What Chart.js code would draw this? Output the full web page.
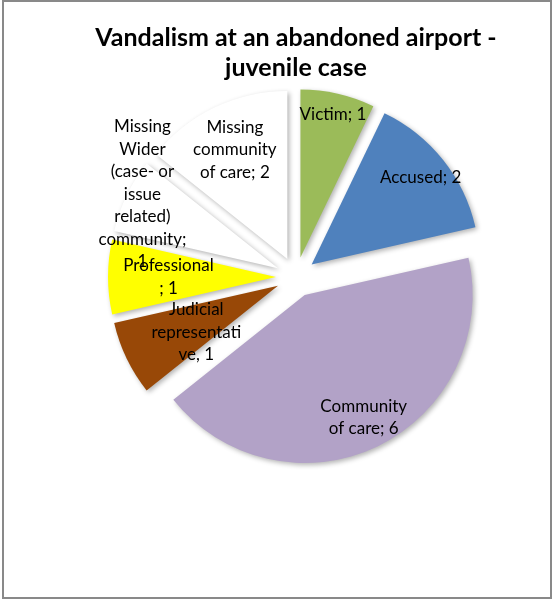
<!DOCTYPE html>
<html>
<head>
<meta charset="utf-8">
<script src="https://cdn.jsdelivr.net/npm/chart.js@4.4.0/dist/chart.umd.min.js"></script>
<style>
    html, body { margin: 0; padding: 0; background: #fff; }
    #wrap { position: absolute; left: 0; top: 0; width: 554px; height: 601px; }
    #frame { position: absolute; left: 2px; top: 0; width: 546px; height: 595px; border: 2px solid #898989; pointer-events: none; }
</style>
</head>
<body>
<div id="wrap"><canvas id="pieChart"></canvas></div>
<div id="frame"></div>
<script>
// data
const categories = [
    'Victim',
    'Accused',
    'Community of care',
    'Judicial representative',
    'Professional',
    'Missing Wider (case- or issue related) community',
    'Missing community of care'
];
const counts = [1, 2, 6, 1, 1, 1, 2];
const titleLines = ['Vandalism at an abandoned airport -', 'juvenile case'];

// how each data label wraps inside its slice ({v} = the count)
const labelLayout = [
    ['Victim; {v}'],
    ['Accused; {v}'],
    ['Community', 'of care; {v}'],
    ['Judicial', 'representati', 've, {v}'],
    ['Professional', '; {v}'],
    ['Missing', 'Wider', '(case- or', 'issue', 'related)', 'community;', '{v}'],
    ['Missing', 'community', 'of care; {v}']
];
// label distance (share of radius) and angle nudge (degrees) per slice
const labelRadius = [0.87, 0.83, 0.81, 0.56, 0.64, 0.92, 0.72];
const labelTurn = [0, 0, 0, -4, 0, 3, 0];

const sliceColors = ['#9bbb59', '#4f81bd', '#b2a2c7', '#984807', '#ffff00', '#ffffff', '#ffffff'];

const SHIFT = 20; // how far every slice is pulled out
const LABEL_FONT = '17px Lato, "Open Sans", sans-serif';
const LINE_H = 22.5;

// explode slices (draw each arc moved along its bisector, with a soft shadow)
const explodePlugin = {
    id: 'explode',
    beforeDatasetDraw(chart, args) {
        const ctx = chart.ctx;
        args.meta.data.forEach((arc) => {
            const mid = (arc.startAngle + arc.endAngle) / 2;
            ctx.save();
            ctx.shadowColor = 'rgba(0, 0, 0, 0.3)';
            ctx.shadowBlur = 5;
            ctx.shadowOffsetX = 2;
            ctx.shadowOffsetY = 2;
            ctx.translate(Math.cos(mid) * SHIFT, Math.sin(mid) * SHIFT);
            arc.draw(ctx);
            ctx.restore();
        });
        return false;
    },
    afterDatasetsDraw(chart) {
        const ctx = chart.ctx;
        const meta = chart.getDatasetMeta(0);
        ctx.save();
        ctx.font = LABEL_FONT;
        ctx.fillStyle = '#000';
        ctx.textAlign = 'center';
        ctx.textBaseline = 'middle';
        meta.data.forEach((arc, i) => {
            const mid = (arc.startAngle + arc.endAngle) / 2;
            const ang = mid + labelTurn[i] * Math.PI / 180;
            const r = arc.outerRadius * labelRadius[i];
            const x = arc.x + Math.cos(mid) * SHIFT + Math.cos(ang) * r;
            const y = arc.y + Math.sin(mid) * SHIFT + Math.sin(ang) * r;
            const lines = labelLayout[i].map((l) => l.replace('{v}', counts[i]));
            const top = y - (lines.length - 1) * LINE_H / 2;
            lines.forEach((line, k) => {
                ctx.fillText(line, x, top + k * LINE_H);
            });
        });
        ctx.restore();
    }
};

const ctx = document.getElementById('pieChart');
// eslint-disable-next-line no-unused-vars
const pieChart = new Chart(ctx, {
    type: 'pie',
    data: {
        labels: categories,
        datasets: [{
            data: counts,
            backgroundColor: sliceColors,
            borderWidth: 0
        }]
    },
    options: {
        responsive: true,
        maintainAspectRatio: false,
        animation: false,
        events: [],
        radius: 168,
        layout: {
            padding: { left: 38, right: 0, top: 0, bottom: 140 }
        },
        plugins: {
            legend: { display: false },
            tooltip: { enabled: false },
            title: {
                display: true,
                text: titleLines,
                color: '#000',
                font: { family: 'Lato, "Open Sans", sans-serif', size: 25, weight: 'bold', lineHeight: 1.2 },
                padding: { top: 23, bottom: 10 }
            }
        }
    },
    plugins: [explodePlugin]
});
</script>
</body>
</html>
